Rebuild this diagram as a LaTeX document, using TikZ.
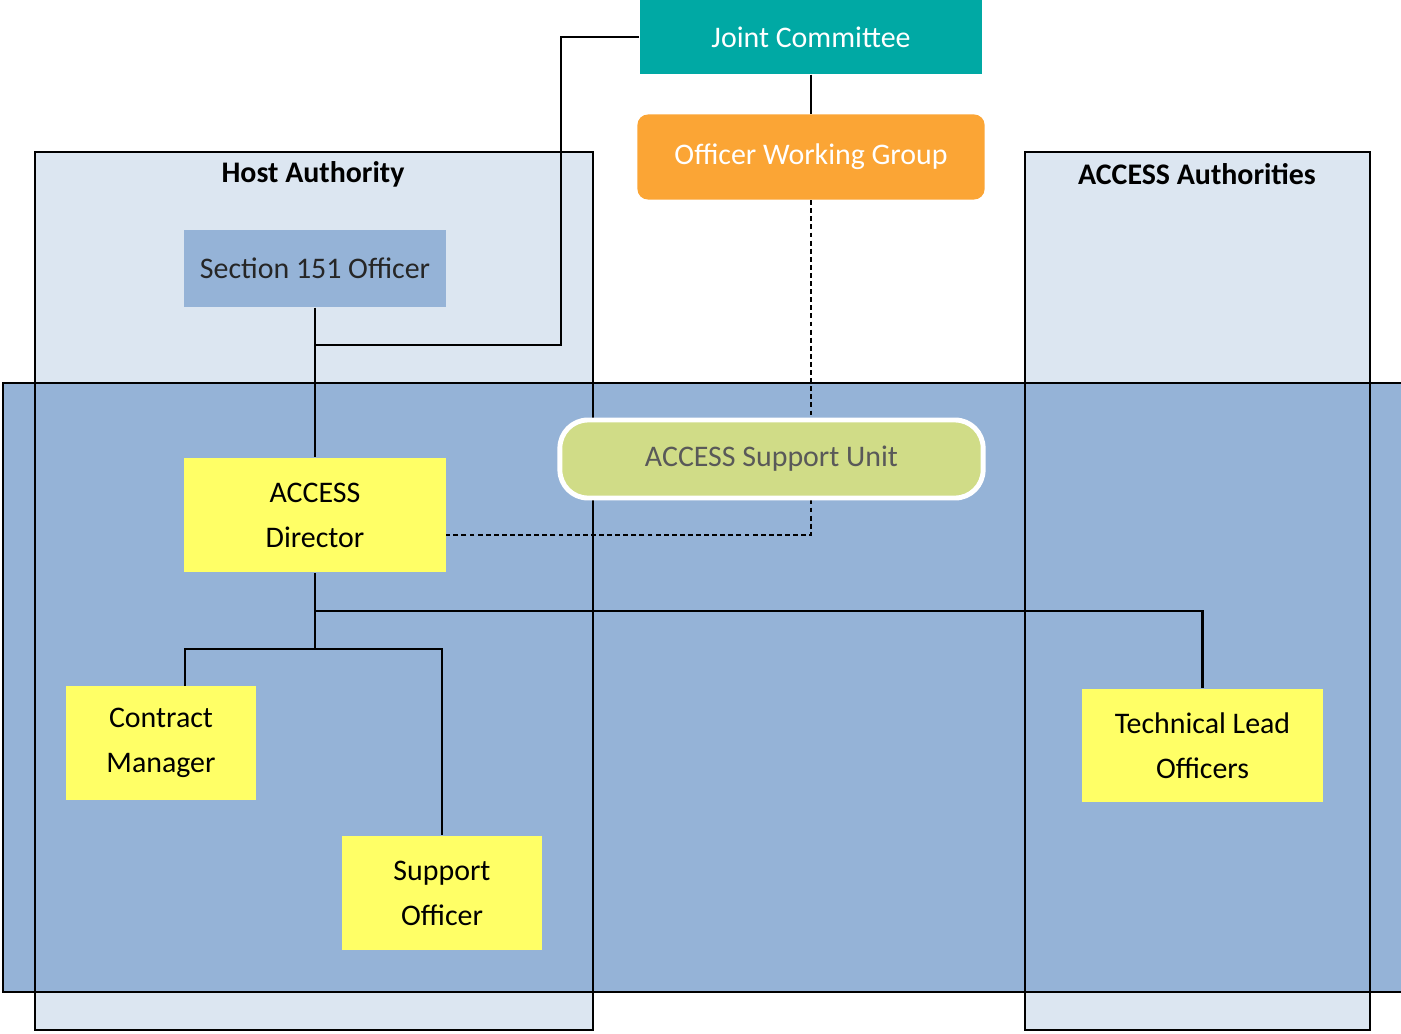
\documentclass[tikz,border=0pt]{standalone}
\usepackage{fontspec}
\setmainfont{Carlito}
\usepackage{tikz}
\usetikzlibrary{positioning}
\definecolor{jointteal}{HTML}{00A9A4}
\definecolor{groupamber}{HTML}{FBA535}
\definecolor{bandblue}{HTML}{95B3D7}
\definecolor{columnblue}{HTML}{DCE6F1}
\definecolor{roleyellow}{HTML}{FFFF66}
\definecolor{unitgreen}{HTML}{D0DC87}
\tikzset{role/.style={%
        rectangle,
        inner sep=0pt,
        align=center,
        fill=roleyellow,
        font=\fontsize{8.5}{12.8}\selectfont
    },
    header/.style={%
        rectangle,
        inner sep=0pt,
        align=center,
        text=white,
        font=\fontsize{8.5}{10}\selectfont
    },
    columntitle/.style={%
        font=\fontsize{8.5}{10}\selectfont\bfseries
    },
    link/.style={line width=0.6pt},
    dottedlink/.style={line width=0.6pt,dash pattern=on 1.4pt off 0.9pt}
}

\begin{document}
\begin{tikzpicture}[x=0.01cm,y=-0.01cm]
    \useasboundingbox (0,0) rectangle (1401,1033);
    \filldraw[link,fill=columnblue] (35,152) rectangle (593,1030);
    \filldraw[link,fill=columnblue] (1025,152) rectangle (1370,1030);
    \filldraw[link,fill=bandblue] (3,383) rectangle (1410,992);
    \draw[link] (35,152) rectangle (593,1030);
    \draw[link] (1025,152) rectangle (1370,1030);
    \node [columntitle] (hosttitle) at (313,174) {Host Authority};
    \node [columntitle] (accesstitle) at (1197,174) {ACCESS Authorities};

    \node [header,fill=jointteal,minimum width=3.42cm,minimum height=0.74cm] (JC) at (811,37) {Joint Committee};
    \node [header,fill=groupamber,rounded corners=3pt,minimum width=3.47cm,minimum height=0.85cm] (OWG) [below=0.39cm of JC] {Officer Working Group};
    \node [role,fill=bandblue,minimum width=2.62cm,minimum height=0.77cm,text=black!85] (S151) at (315,268.5) {Section 151 Officer};
    \node [role,minimum width=2.62cm,minimum height=1.14cm] (AD) at (315,515) {ACCESS\\Director};
    \node [role,minimum width=1.90cm,minimum height=1.14cm] (CM) at (161,743) {Contract\\Manager};
    \node [role,minimum width=2.00cm,minimum height=1.14cm] (SO) at (442,893) {Support\\Officer};
    \node [role,minimum width=2.41cm,minimum height=1.13cm] (TLO) at (1202.5,745.5) {Technical Lead\\Officers};

    \coordinate (hostjoin) at (315,345);
    \coordinate (hostbend) at (561,345);
    \coordinate (teamsplit) at (315,649);
    \coordinate (leadsplit) at (315,611);
    \coordinate (cmtop) at (185,686);
    \coordinate (adlink) at (446,535);

    \draw[dottedlink] (OWG.south) |- (adlink);
    \node [role,fill=unitgreen,draw=white,line width=1.4pt,rounded corners=8pt,minimum width=4.23cm,minimum height=0.78cm,text=black!65,font=\fontsize{8.5}{10}\selectfont] (ASU) at (771.5,459) {ACCESS Support Unit};

    \path[link] (S151) edge (AD);
    \path[link] (JC) edge (OWG);
    \draw[link] (JC.west) -| (hostbend) -- (hostjoin);
    \draw[link] (AD.south) -- (teamsplit);
    \draw[link] (cmtop) |- (teamsplit) -| (SO.north);
    \draw[link] (leadsplit) -| (TLO.north);
\end{tikzpicture}
\end{document}
